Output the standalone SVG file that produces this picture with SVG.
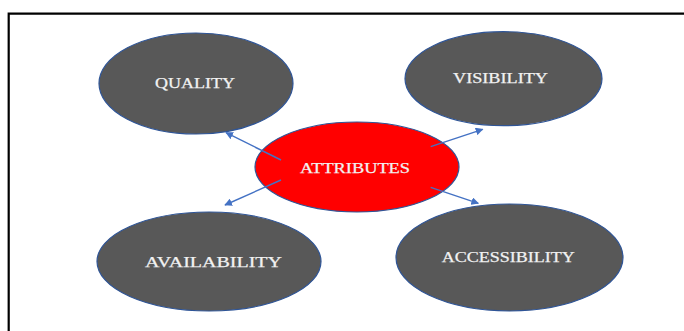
<svg xmlns="http://www.w3.org/2000/svg" width="684" height="331" viewBox="0 0 684 331">
  <style>
    .node { fill: #585858; stroke: #2f5597; stroke-width: 1.2; }
    .hub { fill: #ff0000; stroke: #2f5597; stroke-width: 1.2; }
    .label { font-family: "Liberation Serif", "Times New Roman", serif; font-size: 14.5px; fill: #f2f2f2; stroke: #f2f2f2; stroke-width: 0.25; text-anchor: middle; }
    .link { stroke: #4472c4; stroke-width: 1.4; fill: none; marker-end: url(#arrow); }
  </style>
  <defs>
    <marker id="arrow" viewBox="0 0 10 10" refX="9" refY="5" markerWidth="5.5" markerHeight="5.5" orient="auto" markerUnits="strokeWidth">
      <path d="M0,0 L10,5 L0,10 z" fill="#4472c4"/>
    </marker>
  </defs>

  <rect width="684" height="331" fill="#ffffff"/>

  <!-- frame -->
  <path d="M8.7,331 V13.7 H684" fill="none" stroke="#000000" stroke-width="2.2"/>

  <g id="quality">
    <ellipse class="node" cx="196" cy="83.5" rx="97" ry="50.5"/>
    <text class="label" x="195" y="88.3" textLength="80" lengthAdjust="spacingAndGlyphs">QUALITY</text>
  </g>

  <g id="visibility">
    <ellipse class="node" cx="503.5" cy="78.7" rx="98.5" ry="47"/>
    <text class="label" x="500.5" y="82.7" textLength="95" lengthAdjust="spacingAndGlyphs">VISIBILITY</text>
  </g>

  <g id="availability">
    <ellipse class="node" cx="209" cy="261.5" rx="112" ry="49.5"/>
    <text class="label" x="213.5" y="267.3" textLength="137" lengthAdjust="spacingAndGlyphs">AVAILABILITY</text>
  </g>

  <g id="accessibility">
    <ellipse class="node" cx="509.5" cy="257.5" rx="113.5" ry="53.5"/>
    <text class="label" x="508.3" y="261.7" textLength="133" lengthAdjust="spacingAndGlyphs">ACCESSIBILITY</text>
  </g>

  <g id="attributes">
    <ellipse class="hub" cx="357" cy="167" rx="102" ry="45"/>
    <text class="label" x="355" y="172.5" textLength="110" lengthAdjust="spacingAndGlyphs">ATTRIBUTES</text>
  </g>

  <g id="connectors">
    <line class="link" x1="281" y1="160" x2="226" y2="132.7"/>
    <line class="link" x1="430.7" y1="146.7" x2="482.7" y2="129.3"/>
    <line class="link" x1="281" y1="180" x2="225" y2="205"/>
    <line class="link" x1="430.7" y1="187.3" x2="478.3" y2="203.3"/>
  </g>
</svg>
